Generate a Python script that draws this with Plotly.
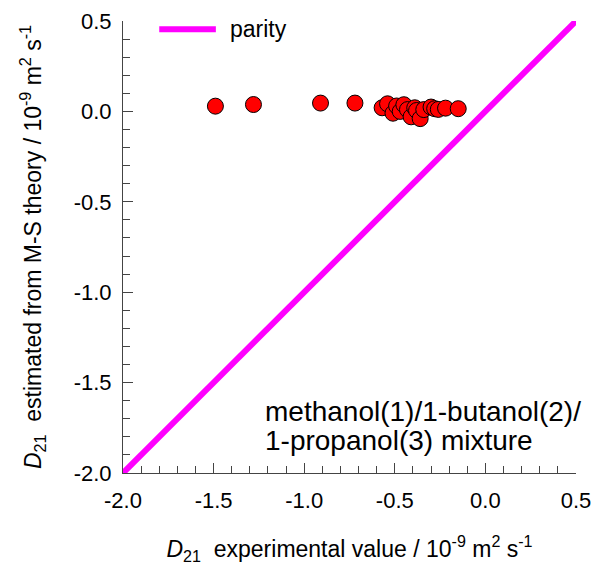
import plotly.graph_objects as go

# Data
exp_x = [-1.49, -1.28, -0.91, -0.72, -0.57, -0.54, -0.51, -0.49, -0.47, -0.45,
         -0.43, -0.41, -0.39, -0.38, -0.36, -0.34, -0.30, -0.28, -0.26, -0.22, -0.15]
ms_y = [0.029, 0.038, 0.046, 0.046, 0.020, 0.042, -0.010, 0.030, 0.000, 0.037,
        0.010, -0.030, 0.020, 0.005, -0.040, 0.010, 0.024, 0.015, 0.011, 0.018, 0.015]
parity_x = [-2.0, 0.5]
parity_y = [-2.0, 0.5]
tick_vals = [-2.0, -1.5, -1.0, -0.5, 0.0, 0.5]
tick_text = ["-2.0", "-1.5", "-1.0", "-0.5", "0.0", "0.5"]
label_lines = ["methanol(1)/1-butanol(2)/", "1-propanol(3) mixture"]
legend_name = "parity"

FONT = "Liberation Sans, Arial, sans-serif"
MAGENTA = "#FF00FF"

fig = go.Figure()
fig.add_trace(go.Scatter(x=parity_x, y=parity_y, mode="lines", name=legend_name, showlegend=False,
                         line=dict(color=MAGENTA, width=6), cliponaxis=False))
fig.add_trace(go.Scatter(x=exp_x, y=ms_y, mode="markers", showlegend=False,
                         marker=dict(size=16, color="#FF0000",
                                     line=dict(color="#000000", width=1)),
                         cliponaxis=False))

axis_common = dict(
    range=[-2.0, 0.5], tickvals=tick_vals, ticktext=tick_text, automargin=False,
    ticklabeloverflow="allow",
    showgrid=False, zeroline=False, showline=True, linecolor="#444444", linewidth=1,
    ticks="inside", ticklen=10, tickcolor="#444444", tickwidth=1,
    minor=dict(dtick=0.1, ticks="inside", ticklen=7, tickcolor="#444444", tickwidth=1, showgrid=False),
    tickfont=dict(family=FONT, size=22, color="#000000"),
)

# legend drawn as a sample line + label in the top-left corner
legend_y = 0.982
shapes = [dict(type="line", xref="paper", yref="paper", x0=0.08, x1=0.205,
               y0=legend_y, y1=legend_y, line=dict(color=MAGENTA, width=6))]

fig.update_layout(
    width=594, height=568,
    margin=dict(l=123, r=18, t=21, b=95),
    paper_bgcolor="white", plot_bgcolor="white",
    font=dict(family=FONT, color="#000000"),
    showlegend=False,
    xaxis=dict(**axis_common, ticklabelstandoff=8,
               title=dict(text="<i>D</i><sub>21</sub>  experimental value / 10<sup>-9</sup> m<sup>2</sup> s<sup>-1</sup>",
                          font=dict(family=FONT, size=23), standoff=28)),
    yaxis=dict(**axis_common, ticklabelstandoff=6,
               title=dict(text="<i>D</i><sub>21</sub>  estimated from M-S theory / 10<sup>-9</sup> m<sup>2</sup> s<sup>-1</sup>",
                          font=dict(family=FONT, size=23), standoff=25)),
    shapes=shapes,
    annotations=[
        dict(x=0.232, y=legend_y, xref="paper", yref="paper", xanchor="left", yanchor="middle",
             showarrow=False, text=legend_name, font=dict(family=FONT, size=23)),
        dict(x=0.31, y=0.135, xref="paper", yref="paper", xanchor="left", yanchor="middle",
             align="left", showarrow=False, text=label_lines[0], font=dict(family=FONT, size=28)),
        dict(x=0.31, y=0.071, xref="paper", yref="paper", xanchor="left", yanchor="middle",
             align="left", showarrow=False, text=label_lines[1], font=dict(family=FONT, size=28)),
    ],
)

fig.write_html("out.html", config={"displayModeBar": False},
               post_script="document.body.style.margin='0';document.body.style.overflow='hidden';")
